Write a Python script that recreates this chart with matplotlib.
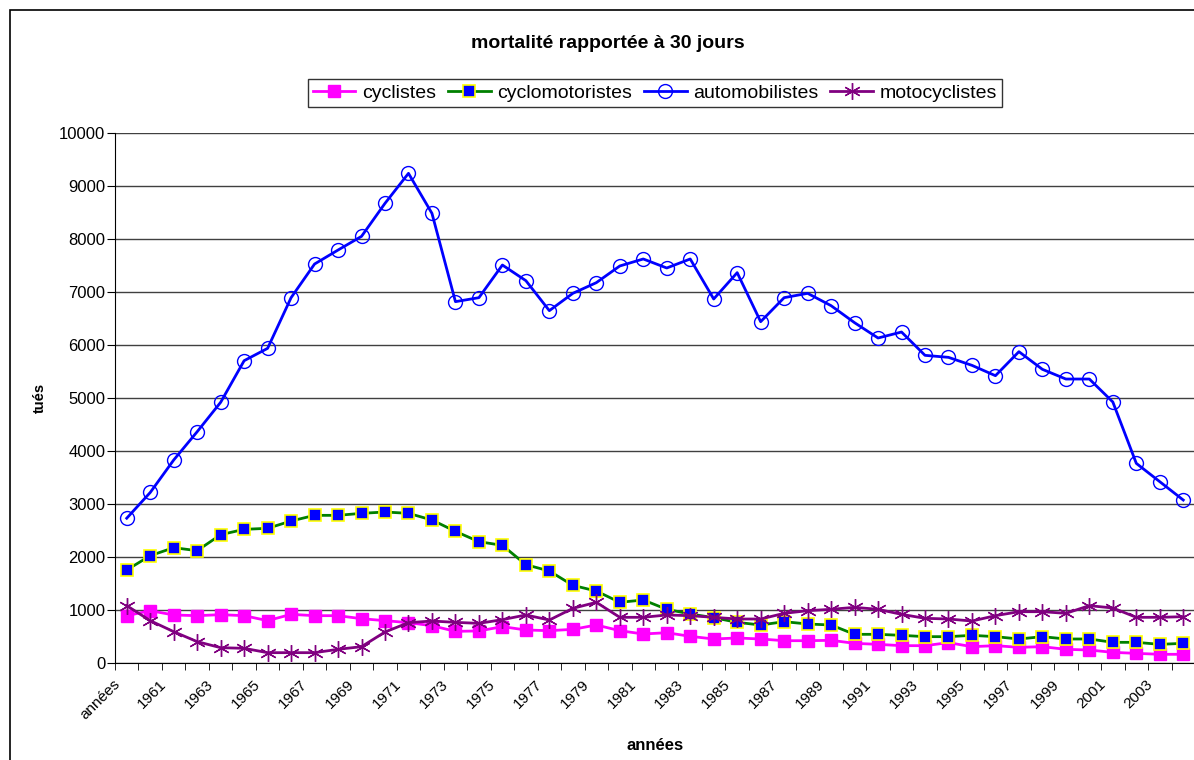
import matplotlib.pyplot as plt
import numpy as np
from matplotlib.patches import Rectangle

plt.rcParams['font.family'] = ['Liberation Sans', 'DejaVu Sans']

# categories: first one is the header "années", then 1960..2004
annees = ['années'] + [str(y) for y in range(1960, 2005)]

cyclistes = [893, 987, 906, 893, 912, 893, 799, 918, 893, 893,
             836, 799, 761, 704, 597, 605, 686, 623, 610, 635,
             717, 610, 547, 572, 503, 453, 472, 453, 421, 421,
             428, 371, 352, 327, 327, 384, 308, 327, 296, 308,
             258, 245, 201, 182, 164, 164]

cyclomotoristes = [1755, 2025, 2176, 2119, 2421, 2522, 2541, 2679, 2786, 2786,
                   2824, 2849, 2824, 2698, 2484, 2289, 2220, 1855, 1736, 1465,
                   1358, 1145, 1189, 1013, 925, 855, 767, 717, 780, 736,
                   717, 541, 541, 522, 497, 497, 522, 497, 453, 497,
                   453, 453, 390, 390, 352, 371]

automobilistes = [2732, 3217, 3830, 4364, 4919, 5704, 5937, 6893, 7528, 7792,
                  8050, 8673, 9239, 8484, 6818, 6893, 7509, 7214, 6648, 6975,
                  7176, 7491, 7623, 7453, 7623, 6868, 7365, 6440, 6893, 6975,
                  6742, 6421, 6132, 6245, 5805, 5767, 5616, 5421, 5874, 5541,
                  5358, 5358, 4925, 3767, 3421, 3075]

motocyclistes = [1082, 799, 591, 403, 289, 277, 195, 195, 195, 258,
                 308, 585, 761, 792, 767, 748, 818, 906, 811, 1031,
                 1145, 862, 862, 906, 893, 862, 830, 830, 937, 987,
                 1013, 1050, 1013, 918, 843, 830, 792, 893, 968, 968,
                 937, 1082, 1038, 862, 862, 874]

x = np.arange(len(annees))

fig = plt.figure(figsize=(11.94, 7.6), dpi=100)
# chart area border (cut at right and bottom edges)
fig.patches.append(Rectangle((10 / 1194, -0.05), 1.1, 0.05 + 750 / 760,
                             transform=fig.transFigure, fill=False,
                             edgecolor='black', linewidth=1.2))

ax = fig.add_axes([115 / 1194, 97 / 760, 1080 / 1194, 530 / 760])

ax.plot(x, cyclistes, color='#FF00FF', lw=2, marker='s', ms=9,
        mfc='#FF00FF', mec='#FF00FF', label='cyclistes', zorder=3)
ax.plot(x, cyclomotoristes, color='#008000', lw=2, marker='s', ms=9,
        mfc='#0000FF', mec='#FFFF00', mew=1.2, label='cyclomotoristes', zorder=3)
ax.plot(x, automobilistes, color='#0000FF', lw=2, marker='o', ms=10,
        mfc='none', mec='#0000FF', mew=1, label='automobilistes', zorder=3)
ax.plot(x, motocyclistes, color='#800080', lw=2, marker=(6, 2, 0), ms=12,
        mec='#800080', mew=1, label='motocyclistes', zorder=4)

ax.set_ylim(0, 10000)
ax.set_yticks(np.arange(0, 10001, 1000))
ax.yaxis.grid(True, color='#404040', lw=1)
ax.set_axisbelow(True)

# tick marks between categories, labels every other year (Excel-style rotated labels)
ax.set_xticks([])
ax.set_xticks(np.arange(-0.5, len(annees), 1), minor=True)
ax.set_xlim(-0.5, len(annees) - 0.5)
ax.tick_params(axis='x', which='minor', length=5, direction='out')
ax.tick_params(axis='y', labelsize=12, length=6, pad=1)
for i in x[::2]:
    ax.text(i - 0.6, -0.027, annees[i], transform=ax.get_xaxis_transform(),
            rotation=45, ha='right', va='top', rotation_mode='anchor', fontsize=11)

for s in ['top', 'right']:
    ax.spines[s].set_visible(False)

ax.set_ylabel('tués', fontsize=10.5, fontweight='bold', va='center')
ax.yaxis.set_label_coords((40 - 115) / 1080, 0.5)
ax.set_xlabel('années', fontsize=12, fontweight='bold', va='center')
ax.xaxis.set_label_coords(0.5, (663 - 745) / 530)

fig.text(608 / 1194, 1 - 44 / 760, 'mortalité rapportée à 30 jours', ha='center', va='center',
         fontsize=14, fontweight='bold')

leg = ax.legend(loc='center', bbox_to_anchor=(655 / 1194, 1 - 93 / 760),
                bbox_transform=fig.transFigure, ncol=4, fontsize=14,
                frameon=True, fancybox=False, edgecolor='black',
                handlelength=2.2, columnspacing=0.6, handletextpad=0.35,
                borderpad=0.25, borderaxespad=0)
leg.get_frame().set_linewidth(1)

fig.savefig('out.png', dpi=100)
